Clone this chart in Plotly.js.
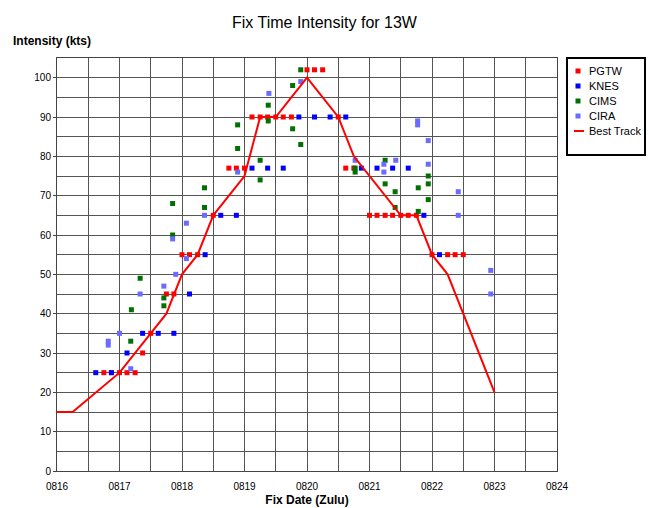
<!DOCTYPE html>
<html>
<head>
<meta charset="utf-8">
<script src="https://cdn.plot.ly/plotly-3.0.1.min.js"></script>
<style>html,body{margin:0;padding:0;background:#fff;}#chart{width:649px;height:508px;}</style>
</head>
<body>
<div id="chart"></div>
<script>
// Fix dates as day-of-August (decimal), intensities in kts
var pgtwX = [16.75,16.87,17.0,17.12,17.25,17.37,17.5,17.75,17.87,18.0,18.12,18.25,18.5,18.75,18.87,19.0,19.12,19.25,19.37,19.5,19.62,19.75,20.0,20.12,20.25,20.5,20.62,20.75,21.0,21.12,21.25,21.37,21.5,21.62,21.75,22.0,22.25,22.37,22.5];
var pgtwY = [25,25,25,25,25,30,35,45,45,55,55,55,65,77,77,77,90,90,90,90,90,90,102,102,102,90,77,77,65,65,65,65,65,65,65,55,55,55,55];

var knesX = [16.62,16.87,17.12,17.37,17.62,17.87,18.12,18.37,18.62,18.87,19.12,19.37,19.62,19.87,20.12,20.37,20.62,20.87,21.12,21.37,21.62,21.87,22.12];
var knesY = [25,25,30,35,35,35,45,55,65,65,77,77,77,90,90,90,90,77,77,77,77,65,55];

var cimsX = [17.18,17.19,17.33,17.71,17.71,17.85,17.85,18.36,18.36,18.89,18.89,19.25,19.25,19.38,19.38,19.77,19.77,19.9,19.9,20.77,20.77,21.25,21.25,21.41,21.41,21.78,21.78,21.94,21.94,21.94];
var cimsY = [33,41,49,42,44,60,68,67,72,82,88,74,79,89,93,87,98,83,102,76,77,79,73,71,67,72,66,75,73,69];

var ciraX = [16.82,16.82,17.0,17.18,17.33,17.71,17.85,17.9,18.07,18.07,18.36,18.89,19.39,19.9,20.77,21.23,21.23,21.42,21.77,21.77,21.94,21.94,22.42,22.42,22.94,22.94];
var ciraY = [32,33,35,26,45,47,59,50,54,63,65,76,96,99,79,78,76,79,89,88,84,78,71,65,51,45];

var bestX = [16.0,16.25,17.0,17.5,17.75,18.0,18.25,18.5,19.0,19.25,19.5,20.0,20.5,20.75,21.0,21.5,21.75,22.0,22.25,23.0];
var bestY = [15,15,25,35,40,50,55,65,75,90,90,100,90,80,75,65,65,55,50,20];

var tickVals = [16,16.5,17,17.5,18,18.5,19,19.5,20,20.5,21,21.5,22,22.5,23,23.5,24];
var tickText = ['0816','','0817','','0818','','0819','','0820','','0821','','0822','','0823','','0824'];

var seriesNames = ['PGTW','KNES','CIMS','CIRA','Best Track'];
var seriesColors = ['#ff0000','#0000ff','#007000','#6b6bff','#ff0000'];

function sq(i,x,y){
  return {type:'scatter',mode:'markers',name:seriesNames[i],x:x,y:y,showlegend:false,
    marker:{symbol:'square',size:5,color:seriesColors[i],line:{width:0}}};
}
var traces = [
  sq(0,pgtwX,pgtwY),
  sq(1,knesX,knesY),
  sq(2,cimsX,cimsY),
  sq(3,ciraX,ciraY),
  {type:'scatter',mode:'lines',name:seriesNames[4],x:bestX,y:bestY,showlegend:false,line:{color:seriesColors[4],width:2}}
];

// Legend box drawn in paper coordinates (plot area 500 x 413 px)
var W = 500, H = 413;
function px2x(p){ return (p-57)/W; }
function py2y(p){ return (471-p)/H; }
var shapes = [{type:'rect',xref:'paper',yref:'paper',x0:px2x(567),x1:px2x(645),y0:py2y(155),y1:py2y(58),
  line:{color:'#000',width:2},fillcolor:'#fff',layer:'above'}];
var annotations = [{text:'<b>Intensity (kts)</b>',xref:'paper',yref:'paper',x:px2x(11),y:py2y(41),
  xanchor:'left',yanchor:'middle',showarrow:false,font:{size:12,color:'#000'}}];
var rowY = [71,86,101,116,131];
for (var i=0;i<seriesNames.length;i++){
  if (i<4){
    shapes.push({type:'rect',xref:'paper',yref:'paper',x0:px2x(575.5),x1:px2x(580.5),y0:py2y(rowY[i]+2.5),y1:py2y(rowY[i]-2.5),
      line:{width:0},fillcolor:seriesColors[i],layer:'above'});
  } else {
    shapes.push({type:'line',xref:'paper',yref:'paper',x0:px2x(574),x1:px2x(584),y0:py2y(rowY[i]),y1:py2y(rowY[i]),
      line:{color:seriesColors[i],width:2},layer:'above'});
  }
  annotations.push({text:seriesNames[i],xref:'paper',yref:'paper',x:px2x(587),y:py2y(rowY[i]),
    xanchor:'left',yanchor:'middle',showarrow:false,font:{size:11,color:'#000'}});
}

var layout = {
  width:649,height:508,
  margin:{l:57,r:92,t:58,b:37,autoexpand:false},
  paper_bgcolor:'#fff',plot_bgcolor:'#fff',
  font:{family:'Liberation Sans, Arial, sans-serif',size:10,color:'#000'},
  title:{text:'Fix Time Intensity for 13W',font:{size:16,color:'#000'},x:0.5,xanchor:'center',y:0.955,yanchor:'middle'},
  showlegend:false,
  xaxis:{range:[16,24],tickmode:'array',tickvals:tickVals,ticktext:tickText,
    showgrid:true,gridcolor:'#555',gridwidth:1,zeroline:false,
    showline:true,linecolor:'#444',linewidth:1,mirror:true,ticks:'outside',ticklen:6,tickcolor:'rgba(0,0,0,0)',
    tickfont:{size:10},
    title:{text:'<b>Fix Date (Zulu)</b>',font:{size:12},standoff:4}},
  yaxis:{range:[0,105],tickmode:'linear',tick0:0,dtick:10,
    showgrid:true,gridcolor:'#555',gridwidth:1,zeroline:false,
    minor:{dtick:5,showgrid:true,gridcolor:'#555',gridwidth:1},
    showline:true,linecolor:'#444',linewidth:1,mirror:true,ticks:'outside',ticklen:3,tickcolor:'#444',
    tickfont:{size:10}},
  shapes:shapes,
  annotations:annotations
};
Plotly.newPlot('chart',traces,layout,{displayModeBar:false,staticPlot:true});
</script>
</body>
</html>
